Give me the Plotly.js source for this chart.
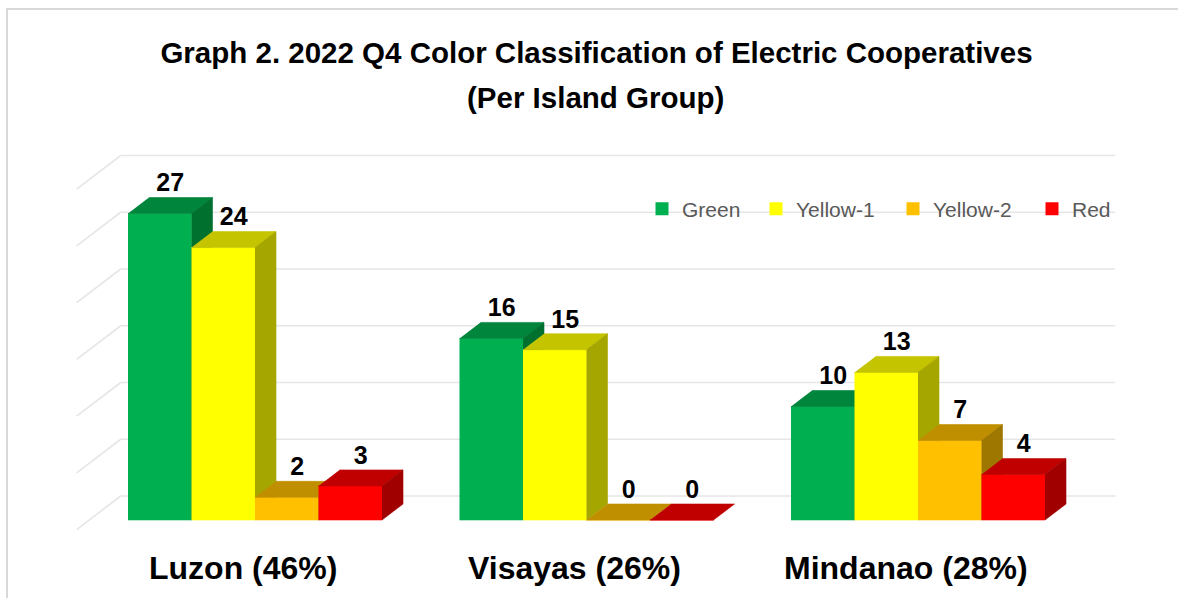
<!DOCTYPE html>
<html><head><meta charset="utf-8">
<script src="https://cdn.plot.ly/plotly-3.0.1.min.js"></script>
<style>html,body{margin:0;padding:0;background:#fff}#chart{width:1178px;height:598px}</style>
</head><body><div id="chart"></div>
<script>
// ---- data ----
const islands = ['Luzon (46%)', 'Visayas (26%)', 'Mindanao (28%)'];
const seriesNames = ['Green', 'Yellow-1', 'Yellow-2', 'Red'];
const green = [27, 16, 10];
const yellow1 = [24, 15, 13];
const yellow2 = [2, 0, 7];
const red = [3, 0, 4];
const gridValues = [0, 5, 10, 15, 20, 25, 30];
const titleLines = ['Graph 2. 2022 Q4 Color Classification of Electric Cooperatives', '(Per Island Group)'];

// ---- styles ----
const values = [green, yellow1, yellow2, red];
const frontColors = ['#00B050', '#FFFF00', '#FFC000', '#FF0000'];
const topColors = ['#00853C', '#C4C400', '#C08F00', '#C00000'];
const sideColors = ['#00702F', '#A6A600', '#9E7700', '#A00000'];
const legendLeft = [656, 770, 907, 1046]; // pixel position of each legend square

const W = 63.5 / 331.5;   // bar width in category units
const DX = 21 / 331.5;    // depth offset (x, category units)
const DY = 16 / 11.35;    // depth offset (y, value units)
const WALL = 1.5, FRONT = -0.6;

const traces = [];

// gridlines on back wall + side wall
const gx = [], gy = [];
gridValues.forEach(v => {
  gx.push(-0.5 + WALL * DX, 2.5 + WALL * DX, null);
  gy.push(v + WALL * DY, v + WALL * DY, null);
  gx.push(-0.5 + WALL * DX, -0.5 + FRONT * DX, null);
  gy.push(v + WALL * DY, v + FRONT * DY, null);
});
traces.push({type: 'scatter', mode: 'lines', x: gx, y: gy,
  line: {color: '#e6e6e6', width: 1.6}, hoverinfo: 'skip', showlegend: false});

function poly(color, xs, ys) {
  return {type: 'scatter', mode: 'lines', x: xs, y: ys, fill: 'toself',
    fillcolor: color, line: {color: color, width: 0.6},
    hoverinfo: 'skip', showlegend: false};
}

const lx = [], ly = [], lt = [];
values.forEach((vals, s) => {
  const fx = [], fy = [], tx = [], ty = [], sx = [], sy = [];
  vals.forEach((v, g) => {
    const xl = g - 2 * W + s * W, xr = xl + W;
    fx.push(xl, xr, xr, xl, null); fy.push(0, 0, v, v, null);
    tx.push(xl, xr, xr + DX, xl + DX, null); ty.push(v, v, v + DY, v + DY, null);
    if (v > 0) {
      sx.push(xr, xr + DX, xr + DX, xr, null); sy.push(0, DY, v + DY, v, null);
    }
    lx.push((xl + xr) / 2 + DX / 2); ly.push(v + DY); lt.push(String(v));
  });
  traces.push(poly(frontColors[s], fx, fy));
  traces.push(poly(topColors[s], tx, ty));
  if (sx.length) traces.push(poly(sideColors[s], sx, sy));
});

// data labels
traces.push({type: 'scatter', mode: 'text', x: lx, y: ly, text: lt,
  textposition: 'top center', cliponaxis: false,
  textfont: {family: 'Liberation Sans, Arial, sans-serif', size: 25, color: '#000000', weight: 'bold'},
  hoverinfo: 'skip', showlegend: false});

// legend entries (one small legend per series, placed like the original)
const legends = {};
seriesNames.forEach((n, s) => {
  const key = s === 0 ? 'legend' : 'legend' + (s + 1);
  traces.push({type: 'scatter', mode: 'markers', x: [null], y: [null], name: n, legend: key,
    marker: {symbol: 'square', size: 13, color: frontColors[s]}, showlegend: true, hoverinfo: 'skip'});
  legends[key] = {
    orientation: 'h', x: (legendLeft[s] - 14) / 1178, xanchor: 'left', y: 1 - 209 / 598, yanchor: 'middle',
    bgcolor: 'rgba(0,0,0,0)',
    font: {family: 'Liberation Sans, Arial, sans-serif', size: 21, color: '#595959'}
  };
});

const annotations = islands.map((t, i) => ({
  x: i, y: -4.2, xref: 'x', yref: 'y', xshift: -12, text: t, showarrow: false,
  xanchor: 'center', yanchor: 'middle',
  font: {family: 'Liberation Sans, Arial, sans-serif', size: 32, color: '#000000', weight: 'bold'}
}));
annotations.push({
  x: 595 / 1178, y: 1 - 97 / 598, xref: 'paper', yref: 'paper', text: titleLines[1], showarrow: false,
  xanchor: 'center', yanchor: 'middle',
  font: {family: 'Liberation Sans, Arial, sans-serif', size: 29.5, color: '#000000', weight: 'bold'}
});

const layout = Object.assign({
  width: 1178, height: 598,
  margin: {l: 0, r: 0, t: 0, b: 0},
  paper_bgcolor: '#ffffff', plot_bgcolor: 'rgba(0,0,0,0)',
  title: {
    text: titleLines[0],
    x: 596.5 / 1178, xanchor: 'center', xref: 'paper',
    y: 1 - 53 / 598, yanchor: 'middle', yref: 'container',
    font: {family: 'Liberation Sans, Arial, sans-serif', size: 29.5, color: '#000000', weight: 'bold'}
  },
  xaxis: {range: [-255 / 331.5, (1178 - 255) / 331.5], visible: false, fixedrange: true},
  yaxis: {range: [(520 - 598) / 11.35, 520 / 11.35], visible: false, fixedrange: true},
  showlegend: true,
  annotations: annotations,
  shapes: [{type: 'rect', xref: 'paper', yref: 'paper', layer: 'below',
    x0: 7 / 1178, x1: 1.05, y0: -0.05, y1: 1 - 9 / 598,
    line: {color: '#d9d9d9', width: 2}, fillcolor: 'rgba(0,0,0,0)'}]
}, legends);

Plotly.newPlot('chart', traces, layout, {displayModeBar: false, staticPlot: true});
</script>
</body></html>
